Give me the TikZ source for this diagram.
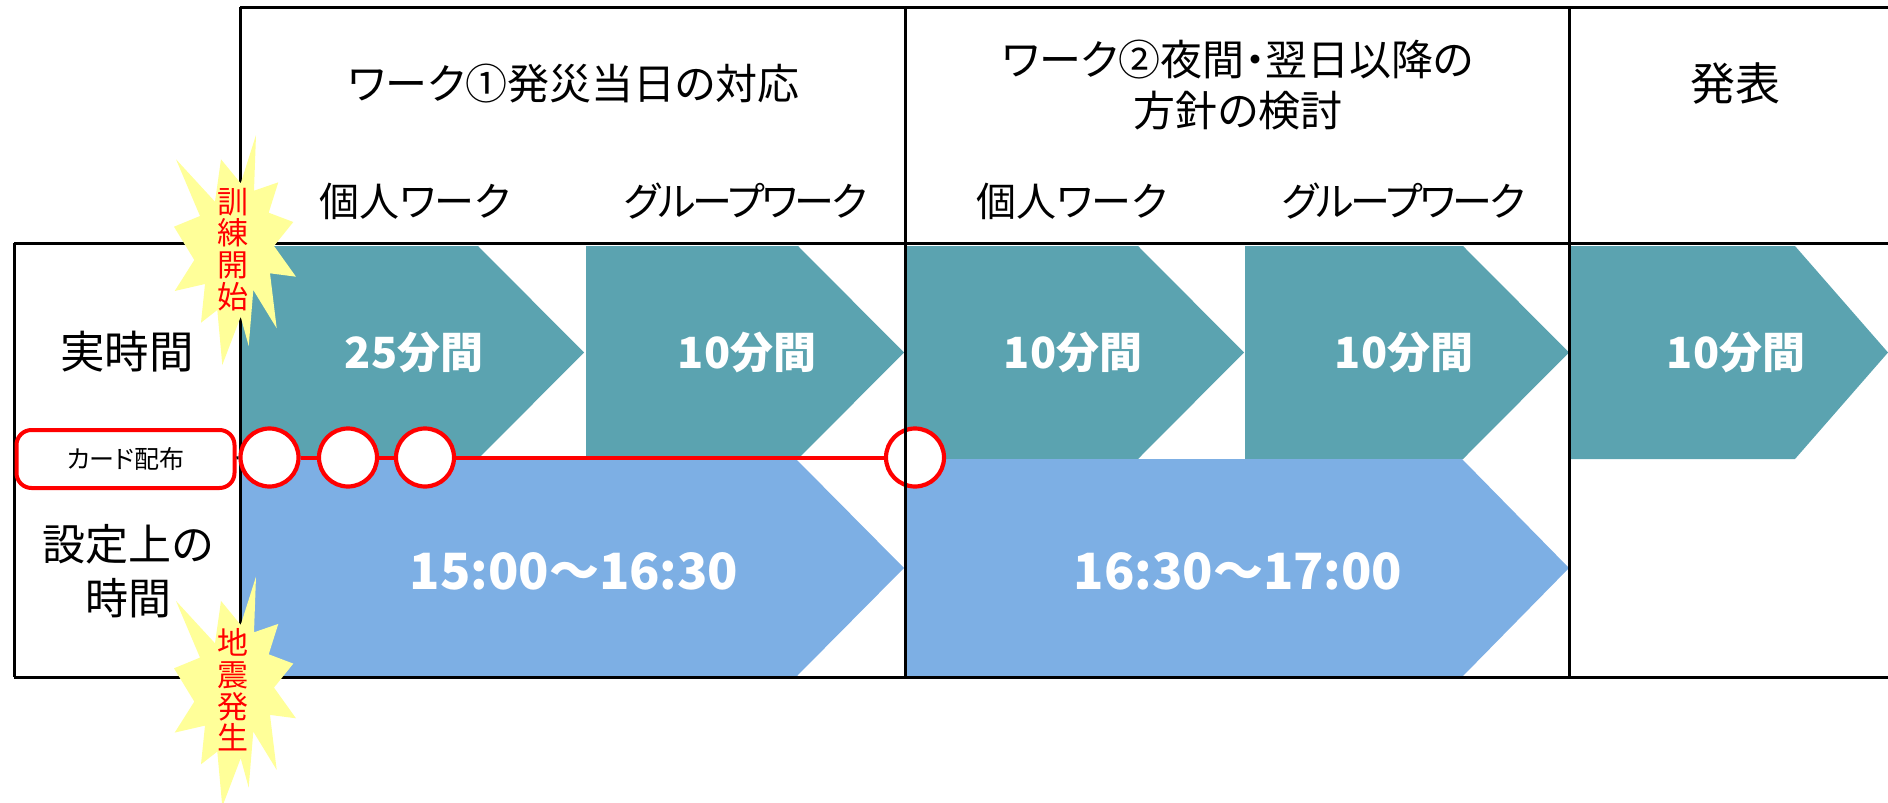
\documentclass[tikz,border=0pt]{standalone}
\usepackage{fontspec}
\setmainfont[RawFeature=+palt]{Noto Sans CJK JP}
\usetikzlibrary{positioning}
\definecolor{realcol}{HTML}{5BA3B0}
\definecolor{setcol}{HTML}{7DAFE4}
\definecolor{burstcol}{HTML}{FFFF99}
\tikzset{
  gridline/.style={line width=3pt,black},
  head/.style={inner sep=0,font=\fontsize{42}{51}\selectfont,align=center},
  step head/.style={inner sep=0,font=\fontsize{40}{48}\selectfont},
  group head/.style={inner sep=0,font=\fontsize{40}{48}\selectfont\addfontfeature{LetterSpace=-6.5}},
  side/.style={inner sep=0,font=\fontsize{43}{54}\selectfont,align=center},
  minutes/.style={inner sep=0,white,font=\fontsize{43}{50}\selectfont\bfseries},
  clock/.style={inner sep=0,white,font=\fontsize{50}{60}\selectfont\bfseries},
  card/.style={draw=red,line width=4pt,fill=white,rounded corners=15,minimum width=218,minimum height=58,inner sep=0,font=\fontsize{25}{28}\selectfont},
  cardpt/.style={circle,draw=red,line width=4.2pt,fill=white,minimum size=58,inner sep=0},
  cardline/.style={red,line width=4pt},
  bursttext/.style={inner sep=0,red,align=center,font=\fontsize{31}{31.7}\selectfont}
}
% arrow: colour, left, shoulder, tip, top, bottom
\newcommand{\timearrow}[6]{\fill[#1] (#2,#5) -- (#3,#5) -- (#4,{(#5+#6)/2}) -- (#3,#6) -- (#2,#6) -- cycle}
% burst: shift in y
\newcommand{\burst}[1]{\fill[burstcol,shift={(0,#1)}] (256,135) -- (254,190.7) -- (278.3,182.3) -- (268.7,212.7)
  -- (293.3,222) -- (274,246) -- (296,276.7) -- (270,273.3) -- (276.7,328.3) -- (253.3,290)
  -- (248.7,346) -- (240.7,316.7) -- (222.3,365) -- (217.3,310) -- (201,322.7) -- (205,284)
  -- (174.7,291) -- (194.3,260) -- (174,226.7) -- (200,216) -- (176,159.3) -- (215,201.7)
  -- (221,159.3) -- (240.7,183.3) -- cycle}
\begin{document}
\begin{tikzpicture}[x=1pt,y=-1pt]
  \useasboundingbox (0,0) rectangle (1888,803);
  % arrows
  \timearrow{realcol}{242}{478}{584}{246}{459};
  \timearrow{realcol}{586}{798}{904}{246}{459};
  \timearrow{realcol}{906}{1138}{1244}{246}{459};
  \timearrow{realcol}{1245}{1463}{1569}{246}{459};
  \timearrow{realcol}{1570}{1795}{1888}{246}{459};
  \timearrow{setcol}{242}{796}{904}{459}{677};
  \timearrow{setcol}{906}{1462}{1569}{459}{677};
  % last card point sits under the grid
  \node[cardpt] (p4) at (915,457.5) {};
  % grid
  \draw[gridline] (240,7) -- (1888,7);
  \draw[gridline] (14,243) -- (1888,243);
  \draw[gridline] (14,677) -- (1888,677);
  \draw[gridline] (14,243) -- (14,677);
  \draw[gridline] (240,7) -- (240,677);
  \draw[gridline] (905,7) -- (905,677);
  \draw[gridline] (1569,7) -- (1569,677);
  % headers
  \node[head] (work1) at (574,84) {ワーク①発災当日の対応};
  \node[head] (work2) at (1238,85) {ワーク②夜間・翌日以降の\\方針の検討};
  \node[head,font=\fontsize{45}{51}\selectfont] (talk) at (1735,84) {発表};
  \node[step head] (solo1) at (415,201) {個人ワーク};
  \node[group head] (group1) at (746,201) {グループワーク};
  \node[step head] (solo2) at (1072,201) {個人ワーク};
  \node[group head] (group2) at (1404,201) {グループワーク};
  \node[side,font=\fontsize{44.5}{54}\selectfont] (real) at (127,352) {実時間};
  \node[side] (set) at (128,571) {設定上の\\時間};
  % times
  \node[minutes] (t1) at (414,352) {25分間};
  \node[minutes] (t2) at (747,352) {10分間};
  \node[minutes] (t3) at (1073,352) {10分間};
  \node[minutes] (t4) at (1404,352) {10分間};
  \node[minutes] (t5) at (1736,352) {10分間};
  \node[clock] (s1) at (574,571) {15:00～16:30};
  \node[clock] (s2) at (1238,571) {16:30～17:00};
  % cards
  \node[card] (cards) at (125.5,459) {カード配布};
  \node[cardpt] (p1) at (269.5,457.5) {};
  \node[cardpt] (p2) at (348,457.5) {};
  \node[cardpt] (p3) at (425,457.5) {};
  \draw[gridline] (cards) -- (p1);
  \draw[cardline]
  (p1) -- (p2)
  (p2) -- (p3)
  (p3) -- (p4);
  % bursts
  \burst{0};
  \burst{441.6};
  \node[bursttext] (start) at (233,249.5) {訓\\練\\開\\始};
  \node[bursttext] (quake) at (233,690) {地\\震\\発\\生};
\end{tikzpicture}
\end{document}
